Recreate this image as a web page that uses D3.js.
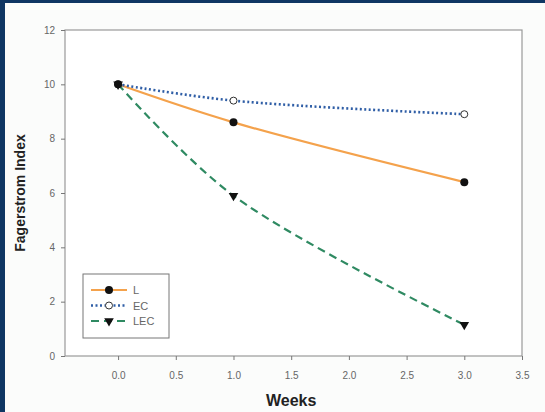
<html>
<head>
  <script src="https://d3js.org/d3.v7.min.js"></script>
  <style>
    body { margin: 0; background: #0f3663; }
    text { font-family: "Liberation Sans", Arial, sans-serif; }
    .tick text { fill: #666; font-size: 10px; }
    .tick line { stroke: #777; }
    .domain { display: none; }
  </style>
</head>
<body>
<svg id="chart" width="545" height="412"></svg>
<script>
// data
const weeks = [0, 1, 3];
const seriesNames = ["L", "EC", "LEC"];
const valuesL = [10, 8.6, 6.4];
const valuesEC = [10, 9.4, 8.9];
const valuesLEC = [10, 5.9, 1.15];
const xTicks = [0, 0.5, 1, 1.5, 2, 2.5, 3, 3.5];
const yTicks = [0, 2, 4, 6, 8, 10, 12];

const svg = d3.select("#chart");
// light panel inside the dark frame
svg.append("rect").attr("x", 5).attr("y", 3).attr("width", 540).attr("height", 409)
  .attr("fill", "#fbfcfb");

const margin = { top: 30, right: 23, bottom: 56, left: 65 };
const width = 545 - margin.left - margin.right;
const height = 412 - margin.top - margin.bottom;

const x = d3.scaleLinear().domain([-0.46, 3.5]).range([0, width]);
const y = d3.scaleLinear().domain([0, 12]).range([height, 0]);

const g = svg.append("g").attr("transform", "translate(" + margin.left + "," + margin.top + ")");

g.append("rect").attr("width", width).attr("height", height)
  .attr("fill", "#fff").attr("stroke", "#999").attr("stroke-width", 1.2);

g.append("g").attr("transform", "translate(0," + height + ")")
  .call(d3.axisBottom(x).tickValues(xTicks).tickFormat(d3.format(".1f")).tickSize(4).tickPadding(12));
g.append("g")
  .call(d3.axisLeft(y).tickValues(yTicks).tickSize(4).tickPadding(6));

const series = [
  { name: seriesNames[0], values: valuesL, color: "#f4a24c", dash: null, width: 2.2, marker: "dot" },
  { name: seriesNames[1], values: valuesEC, color: "#2f5ea6", dash: "2,2.5", width: 2.6, marker: "open" },
  { name: seriesNames[2], values: valuesLEC, color: "#2f8a62", dash: "8,5", width: 2.2, marker: "tri" }
];

const line = d3.line()
  .x((d, i) => x(weeks[i]))
  .y(d => y(d))
  .curve(d3.curveCatmullRom);

function drawMarker(sel, type) {
  if (type === "dot") {
    sel.append("circle").attr("r", 4).attr("fill", "#111");
  } else if (type === "open") {
    sel.append("circle").attr("r", 3.5).attr("fill", "#fff").attr("stroke", "#333").attr("stroke-width", 1);
  } else {
    sel.append("path").attr("d", d3.symbol().type(d3.symbolTriangle).size(40)())
      .attr("transform", "rotate(180)").attr("fill", "#111");
  }
}

series.forEach(s => {
  g.append("path").datum(s.values)
    .attr("fill", "none")
    .attr("stroke", s.color)
    .attr("stroke-width", s.width)
    .attr("stroke-dasharray", s.dash)
    .attr("d", line);
});
series.slice().reverse().forEach(s => {
  s.values.forEach((v, i) => {
    const m = g.append("g").attr("transform", "translate(" + x(weeks[i]) + "," + y(v) + ")");
    drawMarker(m, s.marker);
  });
});

// legend
const lg = svg.append("g").attr("transform", "translate(83,274)");
lg.append("rect").attr("width", 86).attr("height", 64)
  .attr("fill", "#fff").attr("stroke", "#777").attr("stroke-width", 1);
series.forEach((s, i) => {
  const row = lg.append("g").attr("transform", "translate(0," + (16 + i * 15.5) + ")");
  row.append("line").attr("x1", 8).attr("x2", 44)
    .attr("stroke", s.color).attr("stroke-width", s.width).attr("stroke-dasharray", s.dash);
  const m = row.append("g").attr("transform", "translate(26,0)");
  drawMarker(m, s.marker);
  row.append("text").attr("x", 50).attr("y", 4).attr("font-size", 11).attr("fill", "#666").text(s.name);
});

// axis titles
svg.append("text").attr("x", margin.left + x(1.5)).attr("y", 406)
  .attr("text-anchor", "middle").attr("font-size", 16).attr("font-weight", "bold").attr("fill", "#222")
  .text("Weeks");
svg.append("text").attr("transform", "translate(25,193) rotate(-90)")
  .attr("text-anchor", "middle").attr("font-size", 14).attr("font-weight", "bold").attr("fill", "#222")
  .text("Fagerstrom Index");
</script>
</body>
</html>
